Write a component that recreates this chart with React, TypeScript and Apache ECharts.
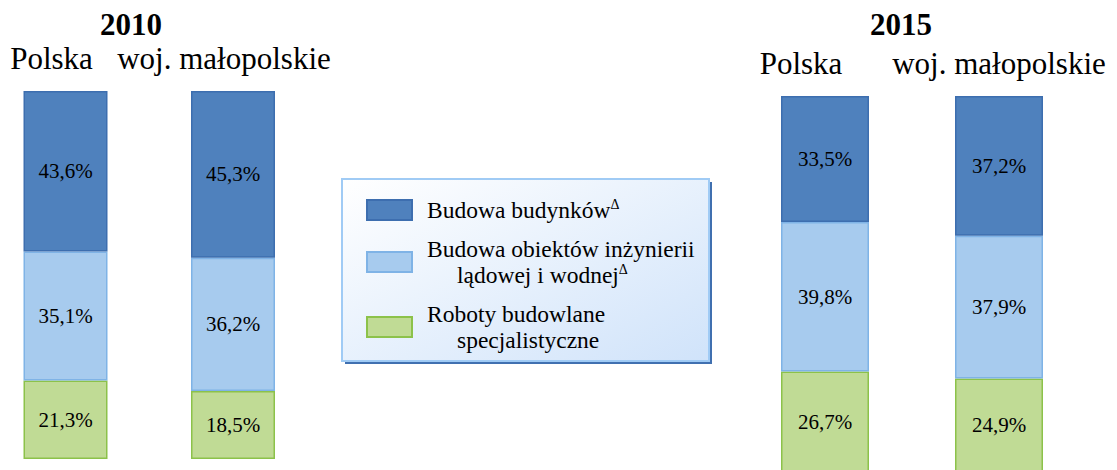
import React, { useEffect, useRef } from "react";
import * as echarts from "echarts";

const categories = ["Polska", "woj. małopolskie"];
const years = ["2010", "2015"];
const seriesNames = [
  "Budowa budynków",
  "Budowa obiektów inżynierii lądowej i wodnej",
  "Roboty budowlane specjalistyczne",
];
const budynki2010 = [43.6, 45.3];
const inzynieria2010 = [35.1, 36.2];
const specjalistyczne2010 = [21.3, 18.5];
const budynki2015 = [33.5, 37.2];
const inzynieria2015 = [39.8, 37.9];
const specjalistyczne2015 = [26.7, 24.9];

const FONT = "Liberation Serif";
const colors = {
  dark: { fill: "#4F81BD", border: "#3D6EAF" },
  light: { fill: "#A7CBEE", border: "#7FB3E6" },
  green: { fill: "#C0DB95", border: "#8CC24A" },
};

const fmt = (v: number) => v.toFixed(1).replace(".", ",") + "%";

export default function App() {
  const ref = useRef<HTMLDivElement>(null);
  useEffect(() => {
    const chart = echarts.init(ref.current!, undefined, { renderer: "svg" });
    const labelShift = [
      [14, 9],
      [24, 0],
    ];
    const mkSeries = (name: string, data: number[], idx: number, c: { fill: string; border: string }, bw: number) => ({
      type: "bar",
      name,
      data,
      stack: "s" + idx,
      xAxisIndex: idx,
      yAxisIndex: idx,
      barWidth: bw,
      itemStyle: { color: c.fill, borderColor: c.border, borderWidth: 1.5 },
      label: {
        show: true,
        position: "inside",
        formatter: (p: any) => fmt(p.value),
        color: "#000",
        fontFamily: FONT,
        fontSize: 21,
      },
    });
    const rich: any = {};
    [0, 9, 14, 24].forEach((s) => {
      rich["p" + s] = { fontFamily: FONT, fontSize: 31, color: "#000", padding: [0, 2 * s, 0, 0] };
    });
    const mkXAxis = (gi: number) => ({
      type: "category",
      gridIndex: gi,
      data: categories,
      position: "top",
      axisLine: { show: false },
      axisTick: { show: false },
      axisLabel: {
        margin: 17,
        fontFamily: FONT,
        formatter: (v: string, i: number) => `{p${labelShift[gi][i]}|${v}}`,
        rich,
      },
    });
    const mkYAxis = (gi: number) => ({
      type: "value",
      gridIndex: gi,
      min: 0,
      max: 100,
      show: false,
      splitLine: { show: false },
    });
    const legendRich = {
      t: { fontFamily: FONT, fontSize: 23.5, color: "#000", lineHeight: 26 },
      sp: { fontFamily: FONT, fontSize: 23.5, lineHeight: 26, width: 30 },
      s: { fontFamily: FONT, fontSize: 14, color: "#000", verticalAlign: "top", lineHeight: 14 },
    };
    chart.setOption({
      animation: false,
      backgroundColor: "#fff",
      textStyle: { fontFamily: FONT },
      title: [
        { text: years[0], left: 95, top: 4, textStyle: { fontFamily: FONT, fontSize: 31, fontWeight: "bold", color: "#000" } },
        { text: years[1], left: 865, top: 4, textStyle: { fontFamily: FONT, fontSize: 31, fontWeight: "bold", color: "#000" } },
      ],
      grid: [
        { left: -18.25, width: 335, top: 91, height: 368, outerBoundsMode: "none", containLabel: false },
        { left: 738, width: 348, top: 96, height: 376, outerBoundsMode: "none", containLabel: false },
      ],
      xAxis: [mkXAxis(0), mkXAxis(1)],
      yAxis: [mkYAxis(0), mkYAxis(1)],
      legend: {
        orient: "vertical",
        left: 361,
        top: 192,
        z: 10,
        itemWidth: 45,
        itemHeight: 20,
        itemGap: 15,
        icon: "rect",
        selectedMode: false,
        data: seriesNames,
        textStyle: { fontFamily: FONT, padding: [0, 0, 0, 10], rich: legendRich },
        formatter: (name: string) => {
          if (name === seriesNames[0]) return "{t|Budowa budynków}{s|Δ}";
          if (name === seriesNames[1]) return "{t|Budowa obiektów inżynierii}\n{sp| }{t|lądowej i wodnej}{s|Δ}";
          return "{t|Roboty budowlane}\n{sp| }{t|specjalistyczne}";
        },
      },
      graphic: [
        { type: "rect", z: 0, shape: { x: 345, y: 182, width: 367, height: 182 }, style: { fill: "#4070B0" } },
        {
          type: "rect",
          z: 1,
          shape: { x: 342, y: 179, width: 367, height: 182 },
          style: {
            fill: new echarts.graphic.LinearGradient(0, 0, 1, 1, [
              { offset: 0, color: "#FFFFFF" },
              { offset: 1, color: "#D0E3FA" },
            ]),
            stroke: "#A0CBF5",
            lineWidth: 2,
          },
        },
      ],
      series: [
        mkSeries(seriesNames[2], specjalistyczne2010, 0, colors.green, 84),
        mkSeries(seriesNames[1], inzynieria2010, 0, colors.light, 84),
        mkSeries(seriesNames[0], budynki2010, 0, colors.dark, 84),
        mkSeries(seriesNames[2], specjalistyczne2015, 1, colors.green, 88),
        mkSeries(seriesNames[1], inzynieria2015, 1, colors.light, 88),
        mkSeries(seriesNames[0], budynki2015, 1, colors.dark, 88),
      ],
    });
    return () => chart.dispose();
  }, []);
  return <div ref={ref} style={{ position: "absolute", left: 0, top: 0, width: 1117, height: 470 }} />;
}
